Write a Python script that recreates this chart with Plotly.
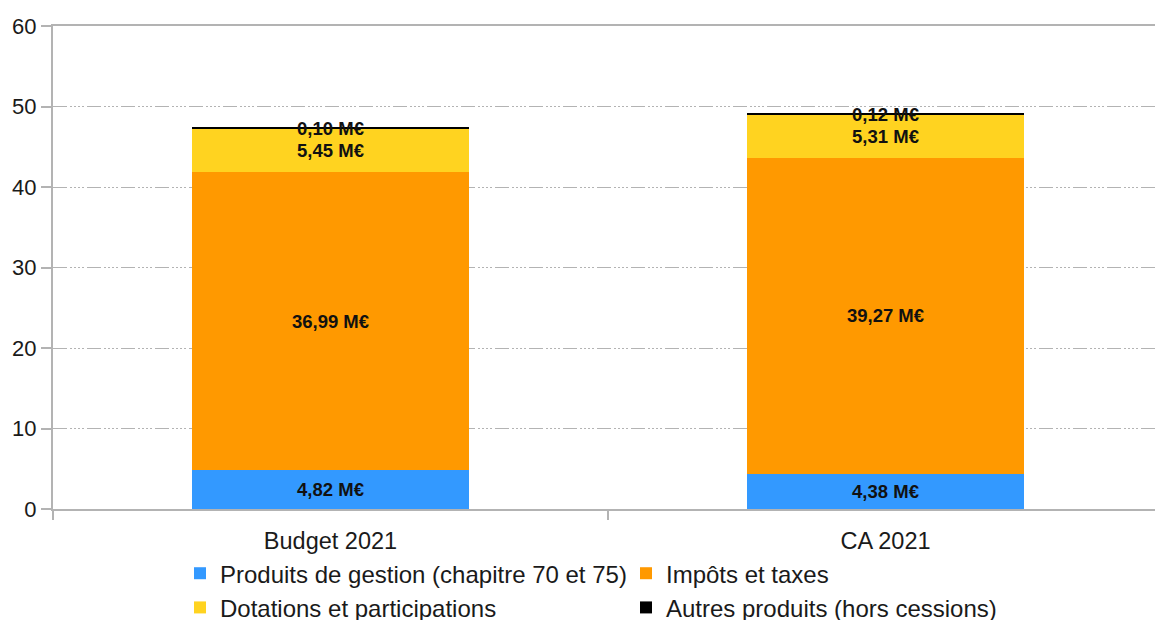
import plotly.graph_objects as go

categories = ["Budget 2021", "CA 2021"]
series_names = [
    "Produits de gestion (chapitre 70 et 75)",
    "Impôts et taxes",
    "Dotations et participations",
    "Autres produits (hors cessions)",
]
produits_gestion = [4.82, 4.38]
impots_taxes = [36.99, 39.27]
dotations = [5.45, 5.31]
autres_produits = [0.10, 0.12]
colors = ["#3399FF", "#FF9900", "#FFD320", "#000000"]
y_ticks = [0, 10, 20, 30, 40, 50, 60]


def fmt(v):
    return f"{v:.2f}".replace(".", ",") + " M€"


fig = go.Figure()
for name, vals, col in zip(series_names,
                           [produits_gestion, impots_taxes, dotations, autres_produits],
                           colors):
    fig.add_trace(go.Bar(
        name=name, x=categories, y=vals,
        marker=dict(color=col, line=dict(width=0)),
        text=[fmt(v) for v in vals],
        textposition="inside",
        insidetextanchor="middle",
        textangle=0,
        insidetextfont=dict(family="Liberation Sans Narrow, Liberation Sans, Arial",
                            size=18.5, color="#111111", weight="bold"),
        cliponaxis=False,
        hoverinfo="skip",
    ))

fig.update_layout(
    barmode="stack",
    bargap=0.5,
    width=1163, height=620,
    margin=dict(l=45, r=8, t=18, b=119, autoexpand=False),
    paper_bgcolor="white",
    plot_bgcolor="white",
    uniformtext=dict(minsize=18.5, mode="show"),
    font=dict(family="Liberation Sans, Arial", size=22, color="#1a1a1a"),
    legend=dict(
        orientation="h",
        x=0.1144, xanchor="left",
        yref="container",
        y=0.1240, yanchor="top",
        entrywidth=401,
        bgcolor="rgba(0,0,0,0)",
        font=dict(size=24, color="#1a1a1a"),
        traceorder="normal",
        itemwidth=30,
        tracegroupgap=0,
    ),
)
fig.update_xaxes(
    showline=True, mirror=True, linecolor="#b3b3b3", linewidth=2,
    ticks="outside", tickson="boundaries", ticklen=9, tickcolor="#b3b3b3", tickwidth=2,
    showgrid=False, range=[-0.5, 1.5], automargin=False,
    ticklabelstandoff=10,
    tickfont=dict(size=23.5, color="#1a1a1a"),
)
fig.update_yaxes(
    range=[0, 60], tickvals=y_ticks, automargin=False,
    showline=True, linecolor="#b3b3b3", linewidth=2,
    ticks="outside", ticklen=10, tickcolor="#b3b3b3", tickwidth=2,
    showgrid=True, gridcolor="#b3b3b3", gridwidth=1,
    griddash="14px,3px,2px,2px,2px,2px,2px,2px,2px,3px",
    zeroline=False,
    tickfont=dict(size=22, color="#1a1a1a"),
)

fig.write_html("out.html")
